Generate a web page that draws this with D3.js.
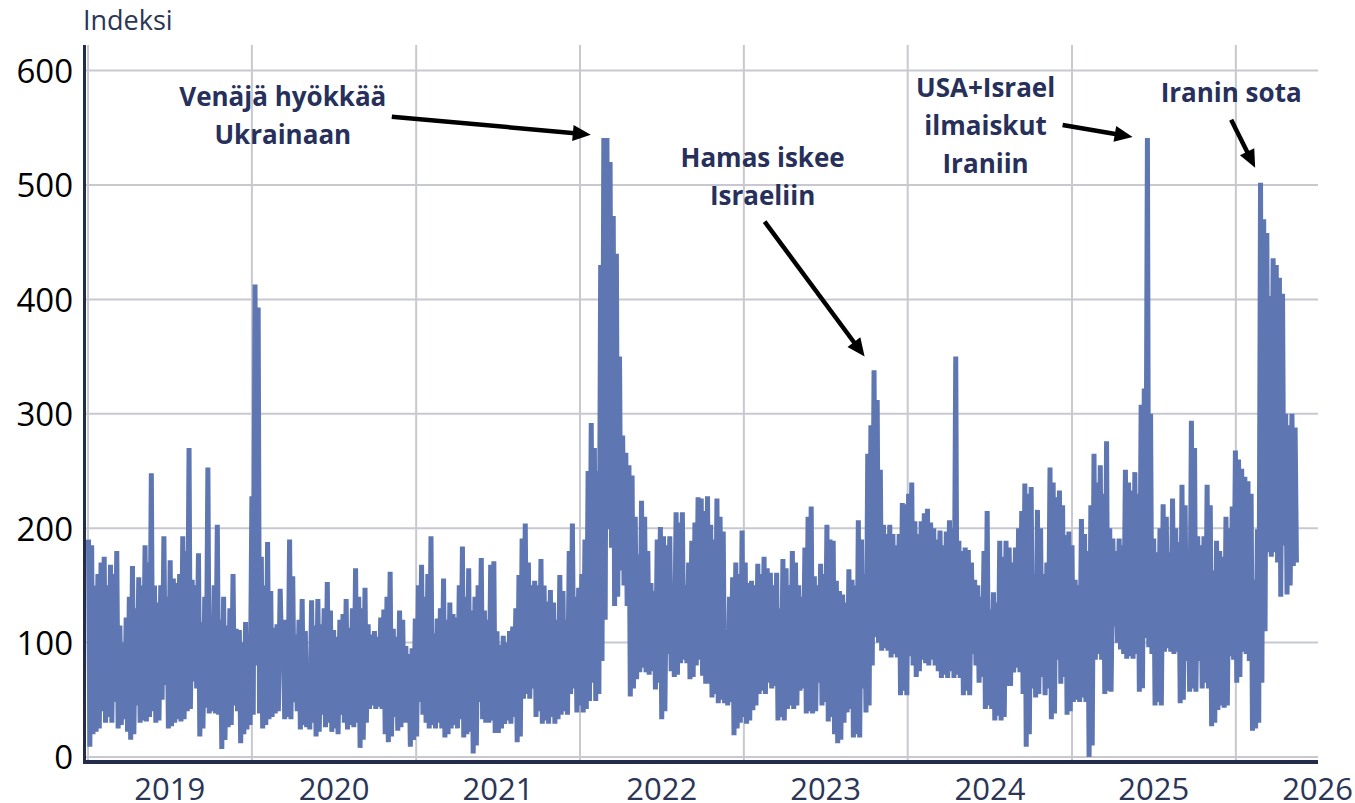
<!DOCTYPE html>
<html>
<head>
<meta charset="utf-8">
<script src="https://cdn.jsdelivr.net/npm/d3@7"></script>
<style>
  body { margin: 0; background: #fff; }
  text { font-family: "Open Sans", "DejaVu Sans", sans-serif; }
</style>
</head>
<body>
<div id="chart"></div>
<script>
// weekly highs / lows, one value per week, weeks counted from 31 Dec 2018
var START = new Date(2018, 11, 31);

var highs2019 = [190,185,150,160,170,175,150,168,160,180, 115,100,122,140,167,130,157,150,185,170,
    248,150,135,150,193,140,172,156,152,160, 193,180,270,155,150,178,118,140,253,122,
    150,203,120,140,115,130,160,112,111,100, 118,105];
var lows2019 = [9,20,22,25,40,30,35,30,48,25, 28,33,22,15,20,45,30,32,31,35,
    40,30,32,50,63,25,27,30,33,31, 33,40,42,66,60,18,25,43,38,40,
    38,37,7,15,26,28,45,40,12,20, 24,28];

var highs2020 = [228,413,393,175,150,188,145,113,116,147, 120,120,190,158,107,120,138,110,83,137,
    115,138,116,130,153,128,111,105,120,125, 138,113,130,165,140,130,148,116,107,110,
    105,122,129,140,162,112,105,128,120,97, 90,95];
var lows2020 = [37,80,38,25,28,33,35,38,40,96, 33,35,33,48,40,24,28,26,24,30,
    18,22,37,26,30,22,25,20,37,30, 24,28,26,30,8,15,30,42,45,42,
    44,42,20,13,18,35,23,26,30,30, 9,15];

var highs2021 = [121,150,168,140,160,193,108,121,130,156, 120,135,125,122,150,184,140,165,128,140,
    150,174,128,120,168, 171,110,98,106,100,110,114,
    130,159,191,204,170,150,154,150,173,150, 136,146,135,120,159,145,120,180,204,140];
var lows2021 = [18,48,37,30,25,28,25,30,25,17, 20,25,28,25,33,17,20,22,3,10,
    48,33,30,30,32, 21,21,25,29,32,29,35,
    13,18,51,55,51,60,35,40,29,32, 29,35,29,33,37,40,37,55,60,39];

var highs2022 = [148,160,190,250,292,270,250,430,541,541, 520,473,440,350,281,266,255,246,210,177,
    224,210,180,152,145,190,201,193,185,193, 150,214,205,214,150,170,189,205,227,226,
    215,228,203,190,226,210,197,110,140,157, 170,160];
var lows2022 = [45,39,42,49,65,49,55,84,120,199, 183,132,140,163,150,132,53,60,68,74,
    78,74,72,75,59,65,33,40,90,75, 70,72,82,85,82,68,70,80,85,71,
    64,64,52,55,47,50,47,45,48,19, 25,30];

var highs2023 = [198,170,152,154,150,169,160,175,165,161, 150,161,130,173,165,150,180,170,150,140,
    183,210,219,158,150,169,160,203,190,189, 154,145,142,135,164,155,150,207,190,160,
    265,290,338,312,251,203,195,203,195,185, 195,222];
var lows2023 = [35,29,32,41,45,55,58,55,65,60, 62,32,35,32,42,45,42,45,58,60,
    38,40,38,40,65,45,48,31,35,20, 12,15,30,39,42,17,20,17,60,39,
    45,80,105,100,93,95,93,87,90,87, 54,58];

var highs2024 = [221,230,240,206,195,206,213,217,205,200, 190,198,185,197,207,200,350,189,180,183,
    181,170,155,150,140,180,215,129,144,135, 189,175,189,183,170,183,200,215,239,230,
    236,160,216,200,160,170,253,240,227,233, 220,194];
var lows2024 = [54,88,80,70,75,85,82,80,85,80, 75,69,72,69,75,69,72,69,54,58,
    54,90,80,65,70,42,45,42,32,36, 32,35,62,62,74,78,74,55,9,20,
    60,52,55,70,54,60,33,38,85,64, 70,37];

var highs2025 = [197,185,155,150,208,195,180,220,265,240, 255,230,276,200,191,180,191,185,251,240,
    233,249,230,308,322,541,300,191,179,200, 221,210,179,226,200,188,238,220,160,294,
    270,193,185,193,238,220,163,189,180,175, 210,200];
var lows2025 = [40,48,50,48,52,48,0,10,85,90, 85,55,58,57,114,100,94,90,86,88,
    86,90,57,60,104,96,90,45,48,45, 92,95,92,90,92,47,50,84,57,60,
    57,84,60,65,60,27,30,41,45,43, 45,88];

var highs2026 = [219,268,260,252,245,241,230,155,199,502, 470,458,403,436,430,419,405,300,290,300, 288];
var lows2026 = [85,65,70,92,90,84,23,25,30,65, 110,179,175,179,170,140,185,142,150,167, 170];

var years = [2019, 2020, 2021, 2022, 2023, 2024, 2025, 2026];
var yTicks = [0, 100, 200, 300, 400, 500, 600];

var annotations = [
    { lines: ["Venäjä hyökkää", "Ukrainaan"], date: "2022-01-25", value: 544 },
    { lines: ["Hamas iskee", "Israeliin"], date: "2023-09-27", value: 350 },
    { lines: ["USA+Israel", "ilmaiskut", "Iraniin"], date: "2025-05-16", value: 542 },
    { lines: ["Iranin sota"], date: "2026-02-13", value: 515 }
];
// where the text and the arrow tail sit, in pixels from the arrow tip
var annLayout = [
    { tx: -308, ty: -29, ax: -199, ay: -18 },
    { tx: -102, ty: -190, ax: -100, ay: -135 },
    { tx: -147, ty: -40, ax: -70, ay: -12 },
    { tx: -24, ty: -66, ax: -24, ay: -48 }
];

var width = 1355;
var height = 803;

var highs = [].concat(highs2019, highs2020, highs2021, highs2022, highs2023, highs2024, highs2025, highs2026);
var lows = [].concat(lows2019, lows2020, lows2021, lows2022, lows2023, lows2024, lows2025, lows2026);

var series = [];
highs.forEach(function (h, i) {
    series.push({ date: d3.timeDay.offset(START, 7 * i + 2), value: h });
    series.push({ date: d3.timeDay.offset(START, 7 * i + 5), value: lows[i] });
});

var x = d3.scaleTime()
    .domain([new Date(2018, 11, 23), new Date(2026, 6, 3)])
    .range([84, 1318]);

var y = d3.scaleLinear()
    .domain([0, 600])
    .range([757, 70.6]);

var svg = d3.select("#chart")
    .append("svg")
    .attr("width", width)
    .attr("height", height);

svg.append("rect").attr("width", width).attr("height", height).attr("fill", "#fff");

var gridColor = "#c8c9d0";

// horizontal grid
svg.append("g").selectAll("line")
    .data(yTicks)
    .enter()
    .append("line")
    .attr("x1", 86)
    .attr("x2", 1318)
    .attr("y1", function (d) { return y(d); })
    .attr("y2", function (d) { return y(d); })
    .style("stroke", gridColor)
    .style("stroke-width", 2);

// vertical grid on every new year
svg.append("g").selectAll("line")
    .data(years)
    .enter()
    .append("line")
    .attr("x1", function (d) { return x(new Date(d, 0, 1)); })
    .attr("x2", function (d) { return x(new Date(d, 0, 1)); })
    .attr("y1", 45)
    .attr("y2", 762)
    .style("stroke", gridColor)
    .style("stroke-width", 2);

// the index line
var line = d3.line()
    .x(function (d) { return x(d.date); })
    .y(function (d) { return y(d.value); });

svg.append("path")
    .datum(series)
    .attr("d", line)
    .style("fill", "none")
    .style("stroke", "#5e76b1")
    .style("stroke-width", 5)
    .style("stroke-linejoin", "bevel");

// axis lines
var axisColor = "#232c4a";
svg.append("line")
    .attr("x1", 84.5).attr("x2", 84.5)
    .attr("y1", 45).attr("y2", 764)
    .style("stroke", axisColor)
    .style("stroke-width", 3);
svg.append("line")
    .attr("x1", 83).attr("x2", 1318)
    .attr("y1", 762).attr("y2", 762)
    .style("stroke", axisColor)
    .style("stroke-width", 4);

// y tick labels
var yAxis = svg.append("g")
    .attr("transform", "translate(84,0)")
    .call(d3.axisLeft(y).tickValues(yTicks).tickSize(0).tickPadding(11));
yAxis.select(".domain").remove();
yAxis.selectAll("text")
    .attr("dy", "0.36em")
    .style("font-family", "'Open Sans', sans-serif")
    .style("font-size", "33px")
    .style("fill", "#000");

// x tick labels at the middle of each year
var xAxis = svg.append("g")
    .attr("transform", "translate(0,762)")
    .call(d3.axisBottom(x)
        .tickValues(years.map(function (yr) { return new Date(yr, 6, 1); }))
        .tickFormat(d3.timeFormat("%Y"))
        .tickSize(0));
xAxis.select(".domain").remove();
xAxis.selectAll("text")
    .attr("y", 38)
    .attr("dy", 0)
    .style("font-family", "'Open Sans', sans-serif")
    .style("font-size", "31px")
    .style("fill", "#2b3556");

svg.append("text")
    .attr("x", 83)
    .attr("y", 30)
    .style("font-size", "27px")
    .style("fill", "#2b3556")
    .text("Indeksi");

// annotations with arrows
annotations.forEach(function (a, i) {
    var lay = annLayout[i];
    var tipX = x(d3.timeParse("%Y-%m-%d")(a.date));
    var tipY = y(a.value);
    var tailX = tipX + lay.ax;
    var tailY = tipY + lay.ay;

    var dx = tipX - tailX, dy = tipY - tailY;
    var len = Math.sqrt(dx * dx + dy * dy);
    var ux = dx / len, uy = dy / len;
    var headLen = 18, headW = 8;
    var baseX = tipX - ux * headLen, baseY = tipY - uy * headLen;

    svg.append("line")
        .attr("x1", tailX).attr("y1", tailY)
        .attr("x2", baseX + ux * 2).attr("y2", baseY + uy * 2)
        .style("stroke", "#000")
        .style("stroke-width", 4.5);

    svg.append("polygon")
        .attr("points", [
            [tipX, tipY],
            [baseX - uy * headW, baseY + ux * headW],
            [baseX + uy * headW, baseY - ux * headW]
        ].map(function (p) { return p.join(","); }).join(" "))
        .style("fill", "#000");

    var t = svg.append("text")
        .attr("text-anchor", "middle")
        .style("font-size", "26px")
        .style("font-weight", "bold")
        .style("fill", "#26305a");
    a.lines.forEach(function (s, k) {
        t.append("tspan")
            .attr("x", tipX + lay.tx)
            .attr("y", tipY + lay.ty + k * 38)
            .text(s);
    });
});
</script>
</body>
</html>
